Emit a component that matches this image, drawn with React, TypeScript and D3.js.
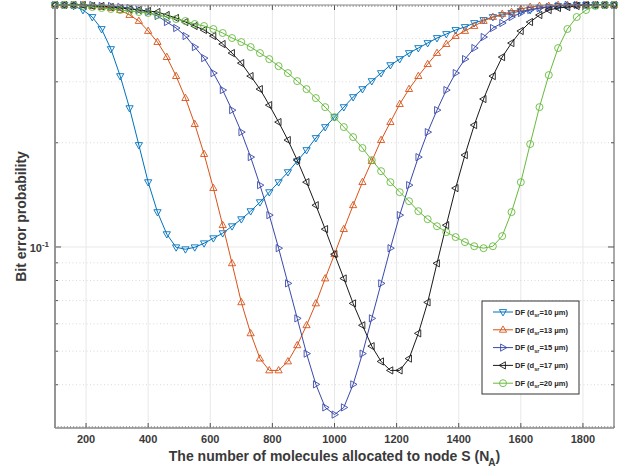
import * as d3 from "d3";

// number of molecules N_A (x) and bit error probability for each d_sr
const molecules = [
  100, 130, 160, 190, 220, 250, 280, 310, 340, 370, 400, 430, 460, 490, 520, 550, 580, 610, 640, 670,
  700, 730, 760, 790, 820, 850, 880, 910, 940, 970, 1000, 1030, 1060, 1090, 1120, 1150, 1180, 1210,
  1240, 1270, 1300, 1330, 1360, 1390, 1420, 1450, 1480, 1510, 1540, 1570, 1600, 1630, 1660, 1690,
  1720, 1750, 1780, 1810, 1840, 1870, 1900,
];

const berD10 = [
  0.5, 0.5, 0.4967, 0.4836, 0.4616, 0.4262, 0.373, 0.3116, 0.2518, 0.197,
  0.1539, 0.1261, 0.1089, 0.0998, 0.0985, 0.0998, 0.1025, 0.106, 0.1096, 0.1148,
  0.1203, 0.1269, 0.1347, 0.144, 0.1539, 0.1645, 0.177, 0.1905, 0.2064, 0.222,
  0.2372, 0.2535, 0.271, 0.2858, 0.3014, 0.3179, 0.3352, 0.3489, 0.3632, 0.3755,
  0.3882, 0.4014, 0.4122, 0.4234, 0.4319, 0.4435, 0.4525, 0.4616, 0.4678, 0.4741,
  0.4804, 0.4836, 0.4901, 0.4934, 0.4967, 0.4967, 0.5, 0.5, 0.5, 0.5,
  0.5,
];

const berD13 = [
  0.5, 0.5, 0.5, 0.5, 0.4967, 0.4934, 0.4901, 0.4836, 0.4678, 0.4495,
  0.4206, 0.3908, 0.3536, 0.3116, 0.2692, 0.2264, 0.1855, 0.1479, 0.1156, 0.0897,
  0.0692, 0.0563, 0.0476, 0.044, 0.044, 0.0467, 0.052, 0.0594, 0.0687, 0.0811,
  0.0953, 0.1126, 0.132, 0.1539, 0.177, 0.2036, 0.2295, 0.2586, 0.2858, 0.3116,
  0.3374, 0.3632, 0.3856, 0.4068, 0.4206, 0.4348, 0.4495, 0.4616, 0.4709, 0.4772,
  0.4869, 0.4934, 0.4967, 0.4967, 0.5, 0.5, 0.5, 0.5, 0.5, 0.5,
  0.5,
];

const berD15 = [
  0.5, 0.5, 0.5, 0.5, 0.5, 0.4967, 0.4967, 0.4934, 0.4901, 0.4836,
  0.4772, 0.4647, 0.4465, 0.429, 0.4068, 0.378, 0.3512, 0.3179, 0.2839, 0.2485,
  0.2147, 0.1818, 0.1509, 0.1236, 0.0992, 0.0785, 0.0622, 0.0492, 0.0401, 0.0344,
  0.0328, 0.0344, 0.0401, 0.0492, 0.0622, 0.0785, 0.0992, 0.1236, 0.1509, 0.1818,
  0.2147, 0.2485, 0.2839, 0.3179, 0.3489, 0.3755, 0.4041, 0.429, 0.4435, 0.4616,
  0.4741, 0.4836, 0.4901, 0.4934, 0.4967, 0.5, 0.5, 0.5, 0.5, 0.5,
  0.5,
];

const berD17 = [
  0.5, 0.5, 0.5, 0.5, 0.4967, 0.4967, 0.4934, 0.4901, 0.4869, 0.4836,
  0.4804, 0.4772, 0.4678, 0.4585, 0.4465, 0.4348, 0.4234, 0.4068, 0.3856, 0.3632,
  0.3397, 0.3116, 0.2858, 0.2569, 0.2295, 0.2036, 0.1782, 0.1539, 0.132, 0.1126,
  0.0953, 0.0811, 0.0687, 0.0594, 0.0517, 0.0467, 0.044, 0.044, 0.0476, 0.0563,
  0.0692, 0.0897, 0.1156, 0.1479, 0.1843, 0.225, 0.2675, 0.3116, 0.3536, 0.3882,
  0.4206, 0.4465, 0.4678, 0.4836, 0.4901, 0.4934, 0.4967, 0.5, 0.5, 0.5,
  0.5,
];

const berD20 = [
  0.5, 0.5, 0.5, 0.4967, 0.4934, 0.4901, 0.4869, 0.4836, 0.4804, 0.4772,
  0.4741, 0.4678, 0.4616, 0.4555, 0.4495, 0.4406, 0.4348, 0.4262, 0.415, 0.4014,
  0.3908, 0.378, 0.3632, 0.3489, 0.333, 0.3179, 0.3014, 0.2858, 0.2692, 0.2535,
  0.2372, 0.222, 0.2077, 0.1931, 0.1782, 0.1656, 0.1539, 0.144, 0.1356, 0.1269,
  0.1203, 0.1148, 0.1104, 0.1068, 0.1033, 0.1005, 0.0992, 0.1005, 0.1075, 0.1261,
  0.1539, 0.1983, 0.2535, 0.3137, 0.3755, 0.4262, 0.4616, 0.4836, 0.4967, 0.5,
  0.5,
];

const distances = ["10", "13", "15", "17", "20"];
const seriesValues = [berD10, berD13, berD15, berD17, berD20];
const seriesColors = ["#0072BD", "#D95319", "#3949AB", "#1a1a1a", "#66BB3C"];
const markerShapes = ["down", "up", "right", "left", "circle"];

const xTickValues = [200, 400, 600, 800, 1000, 1200, 1400, 1600, 1800];
const yMinorValues = [0.04, 0.05, 0.06, 0.07, 0.08, 0.09, 0.2, 0.3, 0.4];

const width = 631;
const height = 472;
const margin = { top: 5, right: 17, bottom: 44, left: 55 };

const markerPath = (shape: string) => {
  switch (shape) {
    case "down":
      return "M-3.6,-2.4L3.6,-2.4L0,3.9Z";
    case "up":
      return "M-3.6,2.4L3.6,2.4L0,-3.9Z";
    case "right":
      return "M-2.4,-3.6L-2.4,3.6L3.9,0Z";
    case "left":
      return "M2.4,-3.6L2.4,3.6L-3.9,0Z";
    default:
      return "M3.5,0A3.5,3.5 0 1 1 -3.5,0A3.5,3.5 0 1 1 3.5,0Z";
  }
};

const App = () => {
  const x = d3
    .scaleLinear()
    .domain([100, 1900])
    .range([margin.left, width - margin.right]);
  const y = d3
    .scaleLog()
    .domain([0.03, 0.5])
    .range([height - margin.bottom, margin.top]);

  const x0 = x.range()[0];
  const x1 = x.range()[1];
  const yTop = y.range()[1];
  const yBot = y.range()[0];

  const line = d3
    .line<number>()
    .x((_, i) => x(molecules[i]))
    .y((d) => y(d));

  // minor ticks on the x axis every 10 molecules
  const xMinor = d3.range(100, 1901, 10);

  const font = "'Liberation Sans', Arial, Helvetica, sans-serif";
  const legend = { x: 482, y: 301, w: 97, h: 93, row: 17.8 };

  return (
    <svg
      width={width}
      height={height}
      style={{ position: "absolute", left: 0, top: 0, background: "#fff" }}
      fontFamily={font}
    >
      {/* grid */}
      <g>
        {xTickValues.map((t) => (
          <line key={t} x1={x(t)} x2={x(t)} y1={yTop} y2={yBot} stroke="#e8e8e8" strokeWidth={1} />
        ))}
        {yMinorValues.map((t) => (
          <line
            key={t}
            x1={x0}
            x2={x1}
            y1={y(t)}
            y2={y(t)}
            stroke="#cfcfcf"
            strokeWidth={0.8}
            strokeDasharray="1,2.5"
          />
        ))}
        <line x1={x0} x2={x1} y1={y(0.1)} y2={y(0.1)} stroke="#e8e8e8" strokeWidth={1} />
      </g>

      {/* series */}
      {seriesValues.map((vals, s) => (
        <g key={s}>
          <path d={line(vals) ?? ""} fill="none" stroke={seriesColors[s]} strokeWidth={1} />
          {vals.map((v, i) => (
            <path
              key={i}
              d={markerPath(markerShapes[s])}
              transform={`translate(${x(molecules[i])},${y(v)})`}
              fill="none"
              stroke={seriesColors[s]}
              strokeWidth={0.9}
            />
          ))}
        </g>
      ))}

      {/* axes box */}
      <g>
        {xMinor.map((t) => (
          <g key={t}>
            <line x1={x(t)} x2={x(t)} y1={yBot} y2={yBot - 2} stroke="#777" strokeWidth={0.7} />
            <line x1={x(t)} x2={x(t)} y1={yTop} y2={yTop + 2} stroke="#777" strokeWidth={0.7} />
          </g>
        ))}
        {xTickValues.map((t) => (
          <g key={t}>
            <line x1={x(t)} x2={x(t)} y1={yBot} y2={yBot - 5} stroke="#555" strokeWidth={1} />
            <line x1={x(t)} x2={x(t)} y1={yTop} y2={yTop + 5} stroke="#555" strokeWidth={1} />
            <text
              x={x(t)}
              y={yBot + 15}
              textAnchor="middle"
              fontSize={11}
              fontWeight="bold"
              fill="#3a3a3a"
            >
              {t}
            </text>
          </g>
        ))}
        {yMinorValues.map((t) => (
          <g key={t}>
            <line x1={x0} x2={x0 + 3} y1={y(t)} y2={y(t)} stroke="#555" strokeWidth={1} />
            <line x1={x1} x2={x1 - 3} y1={y(t)} y2={y(t)} stroke="#555" strokeWidth={1} />
          </g>
        ))}
        <line x1={x0} x2={x0 + 6} y1={y(0.1)} y2={y(0.1)} stroke="#555" strokeWidth={1} />
        <line x1={x1} x2={x1 - 6} y1={y(0.1)} y2={y(0.1)} stroke="#555" strokeWidth={1} />
        <line x1={x0} x2={x1} y1={yTop} y2={yTop} stroke="#888" strokeWidth={1.2} />
        <line x1={x1} x2={x1} y1={yTop} y2={yBot} stroke="#555" strokeWidth={1} />
        <line x1={x0} x2={x1} y1={yBot} y2={yBot} stroke="#888" strokeWidth={1.6} />
        <line x1={x0} x2={x0} y1={yTop} y2={yBot} stroke="#8a8a8a" strokeWidth={1.8} />
        <text x={x0 - 6} y={y(0.1) + 5} textAnchor="end" fontSize={11} fontWeight="bold" fill="#3a3a3a">
          10
          <tspan dy={-5} fontSize={8}>
            -1
          </tspan>
        </text>
      </g>

      {/* axis labels */}
      <text
        x={(x0 + x1) / 2}
        y={461}
        textAnchor="middle"
        fontSize={14}
        fontWeight="bold"
        fill="#3a3a3a"
      >
        The number of molecules allocated to node S (N
        <tspan dy={5} dx={-1} fontSize={10}>
          A
        </tspan>
        <tspan dy={-5}>)</tspan>
      </text>
      <text
        transform={`translate(26,${(yTop + yBot) / 2}) rotate(-90)`}
        textAnchor="middle"
        fontSize={14}
        fontWeight="bold"
        fill="#3a3a3a"
      >
        Bit error probability
      </text>

      {/* legend */}
      <g>
        <rect x={legend.x} y={legend.y} width={legend.w} height={legend.h} fill="#fff" stroke="#333" strokeWidth={1} />
        {distances.map((d, s) => {
          const ly = legend.y + 11 + s * legend.row;
          return (
            <g key={d}>
              <line x1={legend.x + 11} x2={legend.x + 31} y1={ly} y2={ly} stroke={seriesColors[s]} strokeWidth={1} />
              <path
                d={markerPath(markerShapes[s])}
                transform={`translate(${legend.x + 21},${ly})`}
                fill="none"
                stroke={seriesColors[s]}
                strokeWidth={0.9}
              />
              <text x={legend.x + 33} y={ly + 2.7} fontSize={7.5} fontWeight="bold" fill="#222">
                DF (d
                <tspan dy={2.5} fontSize={5.5}>
                  sr
                </tspan>
                <tspan dy={-2.5}>={d} μm)</tspan>
              </text>
            </g>
          );
        })}
      </g>
    </svg>
  );
};

export default App;
